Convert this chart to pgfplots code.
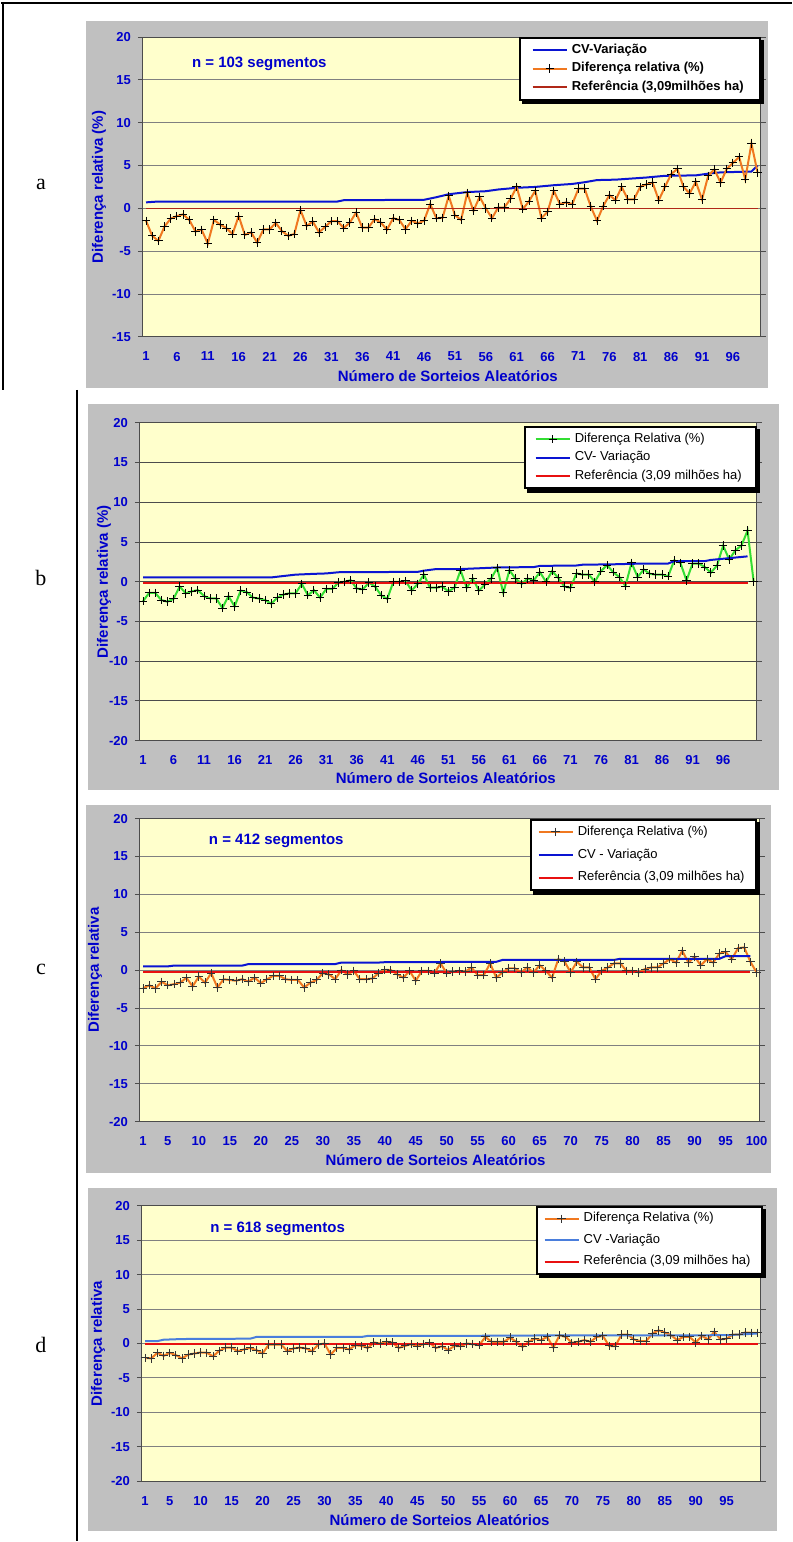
\documentclass[border=0pt]{standalone}
\usepackage{fontspec}
\setmainfont{Liberation Sans}
\newfontfamily\seriffont{Liberation Serif}
\usepackage{pgfplots}
\pgfplotsset{compat=1.18}
\definecolor{bggray}{HTML}{C0C0C0}
\definecolor{plotyel}{HTML}{FFFFCC}
\definecolor{lblue}{HTML}{0000CC}
\definecolor{cvblue}{HTML}{0A14D2}
\definecolor{dorange}{HTML}{F07820}
\definecolor{dgreen}{HTML}{33DD33}
\definecolor{refdark}{HTML}{B02818}
\definecolor{refred}{HTML}{E81010}
\definecolor{cvlight}{HTML}{4A7EDC}
\pgfplotsset{
  excel/.style={
    scale only axis, xmin=0.5, xmax=100.5,
    axis background/.style={fill=plotyel},
    ymajorgrids, grid style={gray, line width=0.5pt},
    axis line style={gray!60!black, line width=0.5pt},
    tick align=outside, major tick length=2.5pt,
    tick style={gray!60!black, line width=0.5pt},
    xtick style={draw=none},
    ytick={-20,-15,...,20},
    tick label style={font=\bfseries\fontsize{6.5}{7.5}\selectfont, text=lblue},
    /pgf/number format/assume math mode=true,
    xticklabel style={yshift=-1.5pt},
    label style={font=\bfseries\fontsize{7.5}{9}\selectfont, text=lblue},
    xlabel={Número de Sorteios Aleatórios},
    legend cell align=left,
    legend style={at={(1,1)}, anchor=north east, draw=black, line width=1pt, fill=white,
      inner xsep=6pt, inner ysep=1pt},
  },
  diffmark/.style={mark=+, mark size=2.1pt, mark options={#1, line width=0.5pt, solid}},
}
\newcommand\legshadow[1]{%
  \fill[black] ([yshift=-1.5pt]#1.north east) rectangle ([xshift=1.8pt,yshift=-1.8pt]#1.south east);
  \fill[black] ([xshift=1.5pt]#1.south west) rectangle ([xshift=1.8pt,yshift=-1.8pt]#1.south east);}
\begin{document}
\begin{tikzpicture}
\path (0,0) rectangle (395.5pt,-771pt);
% table lines
\draw[line width=1pt] (0,-1.5pt) -- (395.5pt,-1.5pt);
\draw[line width=0.6pt] (1pt,-1pt) -- (1pt,-195pt);
\draw[line width=0.6pt] (38pt,-195pt) -- (38pt,-771pt);
% gray backgrounds
\fill[bggray] (42.5pt,-10.5pt) rectangle (383.5pt,-194pt);
\fill[bggray] (43.5pt,-202pt) rectangle (389pt,-395pt);
\fill[bggray] (42.5pt,-402.5pt) rectangle (385pt,-586.5pt);
\fill[bggray] (43.5pt,-594pt) rectangle (388pt,-766pt);
% letters
\node[font=\seriffont\fontsize{11}{13}\selectfont] at (20pt,-92.5pt) {a};
\node[font=\seriffont\fontsize{11}{13}\selectfont] at (20pt,-289pt) {b};
\node[font=\seriffont\fontsize{11}{13}\selectfont] at (20pt,-485pt) {c};
\node[font=\seriffont\fontsize{11}{13}\selectfont] at (20pt,-672.5pt) {d};

% ---------------- panel a
\begin{axis}[excel, at={(71pt,-168.5pt)}, anchor=south west, width=309pt, height=150pt,
  ymin=-15, ymax=20, xtick={1,6,...,96},
  ylabel={Diferença relativa (\%)},
  xlabel style={at={(axis description cs:0.4935,-0.13)}, anchor=center},
  ylabel style={at={(axis description cs:-0.0712,0.5)}, anchor=center},
  legend style={name=lgA, font=\bfseries\fontsize{6.5}{7.5}\selectfont, row sep=-1pt}]
\addplot[cvblue, line width=1pt] coordinates {(1,0.7)(3,0.8)(32,0.8)(33,0.95)(46,1.0)(48,1.3)(50,1.65)(53,1.9)(56,2.0)(58,2.2)(61,2.4)(64,2.5)(67,2.7)(70,2.85)(72,3.05)(74,3.3)(77,3.35)(79,3.45)(82,3.6)(85,3.8)(90,3.85)(92,4.05)(94,4.2)(99,4.3)(100,5.0)};
\addlegendentry{CV-Variação}
\addplot[dorange, line width=1pt, diffmark=black] coordinates {
(1,-1.45)(2,-3.2)(3,-3.8)(4,-2.1)(5,-1.2)(6,-0.9)(7,-0.7)(8,-1.35)(9,-2.7)(10,-2.5)
(11,-4.1)(12,-1.35)(13,-1.9)(14,-2.3)(15,-3.0)(16,-0.9)(17,-3.1)(18,-2.8)(19,-4.0)(20,-2.45)
(21,-2.45)(22,-1.7)(23,-2.65)(24,-3.2)(25,-3.0)(26,-0.2)(27,-2.05)(28,-1.55)(29,-2.8)(30,-2.15)
(31,-1.5)(32,-1.5)(33,-2.3)(34,-1.65)(35,-0.5)(36,-2.25)(37,-2.25)(38,-1.25)(39,-1.65)(40,-2.5)
(41,-1.15)(42,-1.35)(43,-2.45)(44,-1.45)(45,-1.75)(46,-1.45)(47,0.5)(48,-1.15)(49,-1.1)(50,1.45)
(51,-0.8)(52,-1.35)(53,1.8)(54,-0.3)(55,1.35)(56,0)(57,-1.15)(58,0.1)(59,0.1)(60,1.1)
(61,2.5)(62,-0.1)(63,0.85)(64,2.05)(65,-1.15)(66,-0.4)(67,2.05)(68,0.5)(69,0.7)(70,0.5)
(71,2.3)(72,2.3)(73,0.2)(74,-1.45)(75,0.25)(76,1.55)(77,0.95)(78,2.5)(79,1.05)(80,1.05)
(81,2.5)(82,2.8)(83,3.0)(84,0.95)(85,2.5)(86,4.0)(87,4.6)(88,2.5)(89,1.75)(90,3.1)
(91,1.05)(92,3.8)(93,4.55)(94,3.0)(95,4.6)(96,5.3)(97,6.0)(98,3.4)(99,7.55)(100,4.15)};
\addlegendentry{Diferença relativa (\%)}
\addplot[refdark, line width=0.75pt] coordinates {(1,0)(100,0)};
\addlegendentry{Referência (3,09milhões ha)}
\node[anchor=west, font=\bfseries\fontsize{7.5}{9}\selectfont, text=lblue] at (rel axis cs:0.068,0.91) {n = 103 segmentos};
\end{axis}
\legshadow{lgA}

% ---------------- panel b
\begin{axis}[excel, at={(69.5pt,-370.5pt)}, anchor=south west, width=308.5pt, height=159pt,
  ymin=-20, ymax=20, xmax=101.5, xtick={1,6,...,96},
  grid style={gray!60!black, line width=0.5pt},
  ylabel={Diferença relativa (\%)},
  xlabel style={at={(axis description cs:0.496,-0.1164)}, anchor=center},
  ylabel style={at={(axis description cs:-0.0583,0.5)}, anchor=center},
  legend style={name=lgB, at={(1,0.99)}, font=\fontsize{6.5}{7.5}\selectfont, row sep=-1pt, inner xsep=5pt}]
\addplot[dgreen, line width=1pt, diffmark=black] coordinates {
(1,-2.45)(2,-1.4)(3,-1.4)(4,-2.3)(5,-2.5)(6,-2.15)(7,-0.6)(8,-1.45)(9,-1.2)(10,-1.05)
(11,-1.8)(12,-2.1)(13,-2.1)(14,-3.3)(15,-1.8)(16,-3.1)(17,-1.1)(18,-1.3)(19,-2.0)(20,-2.1)
(21,-2.3)(22,-2.75)(23,-2.0)(24,-1.6)(25,-1.45)(26,-1.45)(27,-0.25)(28,-1.7)(29,-1.05)(30,-2.0)
(31,-0.9)(32,-0.9)(33,-0.1)(34,0)(35,0.2)(36,-0.85)(37,-0.95)(38,-0.1)(39,-0.6)(40,-1.7)
(41,-2.15)(42,0)(43,0)(44,0.1)(45,-1.1)(46,-0.25)(47,0.9)(48,-0.75)(49,-0.75)(50,-0.6)
(51,-1.2)(52,-0.75)(53,1.45)(54,-0.75)(55,0.4)(56,-1.1)(57,-0.35)(58,0.4)(59,1.75)(60,-1.4)
(61,1.45)(62,0.4)(63,-0.25)(64,0.4)(65,0.2)(66,1.2)(67,0)(68,1.35)(69,0.5)(70,-0.6)
(71,-0.75)(72,1.05)(73,0.9)(74,0.9)(75,0)(76,1.35)(77,2.1)(78,1.2)(79,0.6)(80,-0.55)
(81,2.4)(82,0.6)(83,1.55)(84,1.0)(85,0.9)(86,0.9)(87,0.7)(88,2.7)(89,2.4)(90,0.15)
(91,2.3)(92,2.3)(93,1.85)(94,1.15)(95,2.05)(96,4.55)(97,2.8)(98,3.95)(99,4.55)(100,6.45)(101,0)};
\addlegendentry{Diferença Relativa (\%)}
\addplot[cvblue, line width=1pt] coordinates {(1,0.55)(22,0.55)(26,0.9)(29,1.0)(31,1.05)(33,1.2)(46,1.25)(47,1.4)(49,1.6)(53,1.6)(56,1.7)(59,1.8)(65,1.85)(66,2.0)(72,2.05)(73,2.15)(78,2.2)(83,2.3)(87,2.3)(88,2.6)(93,2.6)(94,2.75)(96,2.9)(100,3.2)};
\addlegendentry{CV- Variação}
\addplot[refred, line width=1pt] coordinates {(1,-0.1)(100,-0.1)};
\addlegendentry{Referência (3,09 milhões ha)}
\end{axis}
\legshadow{lgB}

% ---------------- panel c
\begin{axis}[excel, at={(69.5pt,-561pt)}, anchor=south west, width=310pt, height=151.5pt,
  ymin=-20, ymax=20, xtick={1,5,10,...,100},
  ylabel={Diferença relativa},
  xlabel style={at={(axis description cs:0.477,-0.1287)}, anchor=center},
  ylabel style={at={(axis description cs:-0.0726,0.5)}, anchor=center},
  legend style={name=lgC, at={(0.995,1)}, font=\fontsize{6.5}{7.5}\selectfont, row sep=1.25pt, inner xsep=3.5pt}]
\addplot[dorange, line width=1pt, diffmark={black!80}] coordinates {
(1,-2.4)(2,-2.0)(3,-2.4)(4,-1.55)(5,-2.0)(6,-1.85)(7,-1.65)(8,-1.0)(9,-2.15)(10,-0.85)
(11,-1.65)(12,-0.4)(13,-2.3)(14,-1.2)(15,-1.3)(16,-1.4)(17,-1.2)(18,-1.5)(19,-1.0)(20,-1.7)
(21,-1.2)(22,-0.75)(23,-0.75)(24,-1.2)(25,-1.3)(26,-1.3)(27,-2.3)(28,-1.65)(29,-1.3)(30,-0.4)
(31,-0.55)(32,-1.2)(33,0)(34,-0.55)(35,-0.1)(36,-1.2)(37,-1.2)(38,-1.1)(39,-0.4)(40,0.05)
(41,0)(42,-0.55)(43,-1.0)(44,-0.1)(45,-1.4)(46,-0.1)(47,-0.1)(48,-0.4)(49,0.9)(50,-0.4)
(51,-0.2)(52,-0.1)(53,-0.2)(54,0.35)(55,-0.65)(56,-0.65)(57,0.9)(58,-1.0)(59,-0.3)(60,0.25)
(61,0.25)(62,-0.3)(63,0.35)(64,-0.3)(65,0.65)(66,-0.1)(67,-1.0)(68,1.45)(69,1.15)(70,-0.3)
(71,1.1)(72,0.35)(73,0.35)(74,-1.2)(75,-0.1)(76,0.35)(77,0.9)(78,0.9)(79,-0.1)(80,-0.1)
(81,-0.3)(82,0.15)(83,0.35)(84,0.35)(85,0.9)(86,1.45)(87,1.0)(88,2.55)(89,1.0)(90,1.75)
(91,0.65)(92,1.45)(93,1.0)(94,2.2)(95,2.4)(96,1.45)(97,2.9)(98,3.0)(99,1.1)(100,-0.3)};
\addlegendentry{Diferença Relativa (\%)}
\addplot[cvblue, line width=1pt] coordinates {(1,0.5)(5,0.5)(6,0.6)(17,0.6)(18,0.8)(32,0.8)(33,1.0)(39,1.0)(40,1.05)(58,1.1)(59,1.35)(77,1.35)(78,1.5)(94,1.5)(95,1.85)(99,1.85)};
\addlegendentry{CV - Variação}
\addplot[refred, line width=1pt] coordinates {(1,-0.27)(99,-0.27)};
\addlegendentry{Referência (3,09 milhões ha)}
\node[anchor=west, font=\bfseries\fontsize{7.5}{9}\selectfont, text=lblue] at (rel axis cs:0.10,0.927) {n = 412 segmentos};
\end{axis}
\legshadow{lgC}

% ---------------- panel d
\begin{axis}[excel, at={(70.5pt,-741pt)}, anchor=south west, width=309.5pt, height=138pt,
  ymin=-20, ymax=20, xtick={1,5,10,...,95},
  ylabel={Diferença relativa},
  xlabel style={at={(axis description cs:0.481,-0.1413)}, anchor=center},
  ylabel style={at={(axis description cs:-0.0711,0.5)}, anchor=center},
  legend style={name=lgD, at={(1.003,1)}, font=\fontsize{6.5}{7.5}\selectfont, row sep=0.5pt, inner xsep=3.5pt}]
\addplot[dorange, line width=1pt, diffmark={black!80}] coordinates {
(1,-2.1)(2,-2.15)(3,-1.35)(4,-1.8)(5,-1.35)(6,-1.7)(7,-2.15)(8,-1.6)(9,-1.45)(10,-1.3)
(11,-1.35)(12,-1.85)(13,-1.05)(14,-0.6)(15,-0.6)(16,-1.1)(17,-0.85)(18,-0.65)(19,-0.95)(20,-1.45)
(21,-0.15)(22,-0.15)(23,-0.15)(24,-1.1)(25,-0.7)(26,-0.6)(27,-0.7)(28,-1.1)(29,-0.15)(30,0)
(31,-1.6)(32,-0.65)(33,-0.65)(34,-0.85)(35,-0.25)(36,-0.35)(37,-0.65)(38,0.15)(39,0)(40,0.25)
(41,0.15)(42,-0.65)(43,-0.35)(44,-0.1)(45,-0.4)(46,-0.1)(47,0.1)(48,-0.65)(49,-0.4)(50,-0.95)
(51,-0.35)(52,-0.4)(53,0)(54,-0.1)(55,-0.25)(56,0.95)(57,0.25)(58,0.25)(59,0.25)(60,0.85)
(61,0.25)(62,-0.5)(63,0.25)(64,0.7)(65,0.5)(66,0.95)(67,-0.6)(68,1.2)(69,0.95)(70,0.1)
(71,0.25)(72,0.5)(73,0.25)(74,0.95)(75,1.1)(76,-0.35)(77,-0.4)(78,1.3)(79,1.3)(80,0.6)
(81,0.35)(82,0.35)(83,1.45)(84,1.9)(85,1.6)(86,1.2)(87,0.5)(88,0.95)(89,0.95)(90,0.15)
(91,1.1)(92,0.6)(93,1.7)(94,0.6)(95,0.7)(96,1.3)(97,1.3)(98,1.6)(99,1.55)(100,1.55)};
\addlegendentry{Diferença Relativa (\%)}
\addplot[cvlight, line width=1pt] coordinates {(1,0.35)(3,0.35)(4,0.55)(7,0.65)(18,0.7)(19,0.95)(36,0.95)(37,1.1)(55,1.1)(56,1.15)(95,1.2)(100,1.45)};
\addlegendentry{CV -Variação}
\addplot[refred, line width=0.9pt] coordinates {(1,-0.1)(100,-0.1)};
\addlegendentry{Referência (3,09 milhões ha)}
\node[anchor=west, font=\bfseries\fontsize{7.5}{9}\selectfont, text=lblue] at (rel axis cs:0.099,0.917) {n = 618 segmentos};
\end{axis}
\legshadow{lgD}
\end{tikzpicture}
\end{document}
